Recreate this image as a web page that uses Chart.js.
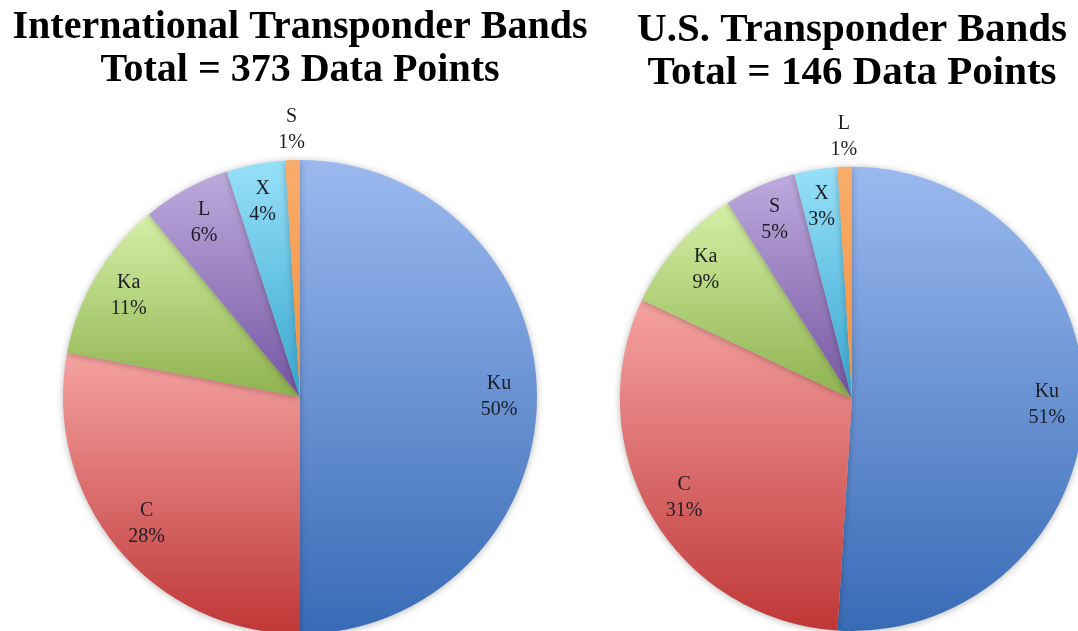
<!DOCTYPE html>
<html>
<head>
<meta charset="utf-8">
<script src="https://cdn.jsdelivr.net/npm/chart.js@4.4.1/dist/chart.umd.min.js"></script>
<style>
  html, body { margin: 0; padding: 0; background: #fff; overflow: hidden; width: 1078px; height: 631px; }
  .box { position: absolute; top: 0; width: 600px; height: 700px; }
  #leftBox { left: 0; }
  #rightBox { left: 552px; }
</style>
</head>
<body>
<div class="box" id="leftBox"><canvas id="intlChart" width="600" height="700"></canvas></div>
<div class="box" id="rightBox"><canvas id="usChart" width="600" height="700"></canvas></div>
<script>
// data (percent of data points)
const intlBands = ["Ku", "C", "Ka", "L", "X", "S"];
const intlShare = [50, 28, 11, 6, 4, 1];
const intlTitle = ["International Transponder Bands", "Total = 373 Data Points"];

const usBands = ["Ku", "C", "Ka", "S", "X", "L"];
const usShare = [51, 31, 9, 5, 3, 1];
const usTitle = ["U.S. Transponder Bands", "Total = 146 Data Points"];

// band -> [top colour, bottom colour] (office style gradient)
const bandColors = {
  Ku: ["#9bb9ef", "#386bb6"],
  C:  ["#f5a3a1", "#bf3737"],
  Ka: ["#d4f0a6", "#8fb24e"],
  L:  ["#bdaadd", "#7656a3"],
  S:  ["#bdaadd", "#7656a3"],
  X:  ["#98e0f8", "#36a7cf"],
};
const usColors = Object.assign({}, bandColors, { L: ["#f9ad6c", "#f0903f"] });
const intlColors = Object.assign({}, bandColors, { S: ["#f9ad6c", "#f0903f"] });

// gradient per slice, over the slice's own vertical extent
function sliceGradient(ctx, colors) {
  const chart = ctx.chart;
  const area = chart.chartArea;
  const labels = chart.data.labels;
  const c = colors[labels[ctx.dataIndex]];
  if (!area) return c[0];
  const data = ctx.dataset.data;
  const total = data.reduce((a, b) => a + b, 0);
  let before = 0;
  for (let i = 0; i < ctx.dataIndex; i++) before += data[i];
  const a0 = -Math.PI / 2 + before / total * 2 * Math.PI;
  const a1 = a0 + data[ctx.dataIndex] / total * 2 * Math.PI;
  const cy = (area.top + area.bottom) / 2;
  const r = Math.min(area.right - area.left, area.bottom - area.top) / 2;
  let ys = [cy, cy + r * Math.sin(a0), cy + r * Math.sin(a1)];
  [-Math.PI / 2, Math.PI / 2, 1.5 * Math.PI].forEach(t => {
    if (t >= a0 && t <= a1) ys.push(cy + r * Math.sin(t));
  });
  const y0 = Math.min(...ys), y1 = Math.max(...ys);
  const g = chart.ctx.createLinearGradient(0, y0, 0, y1 + 0.01);
  g.addColorStop(0, c[0]);
  g.addColorStop(1, c[1]);
  return g;
}

const pieShadow = {
  id: "pieShadow",
  beforeDatasetsDraw(chart) {
    const ctx = chart.ctx;
    ctx.save();
    ctx.shadowColor = "rgba(0,0,0,0.28)";
    ctx.shadowBlur = 7;
    ctx.shadowOffsetY = 1;
  },
  afterDatasetsDraw(chart) {
    chart.ctx.restore();
  }
};

const sliceLabels = {
  id: "sliceLabels",
  afterDraw(chart) {
    const ctx = chart.ctx;
    const meta = chart.getDatasetMeta(0);
    const data = chart.data.datasets[0].data;
    const total = data.reduce((a, b) => a + b, 0);
    ctx.save();
    ctx.font = "20px 'Liberation Serif', serif";
    ctx.fillStyle = "#1c1c24";
    ctx.textAlign = "center";
    ctx.textBaseline = "middle";
    meta.data.forEach((el, i) => {
      const p = el.getProps(["x", "y", "startAngle", "endAngle", "outerRadius"], true);
      const mid = (p.startAngle + p.endAngle) / 2;
      const pct = Math.round(data[i] / total * 100);
      const k = pct < 2 ? 1.13 : 0.84;
      const x = p.x + Math.cos(mid) * p.outerRadius * k;
      const y = p.y + Math.sin(mid) * p.outerRadius * k;
      ctx.fillText(chart.data.labels[i], x, y - 13);
      ctx.fillText(pct + "%", x, y + 13);
    });
    ctx.restore();
  }
};

function makePie(id, labels, values, title, colors, opts) {
  return new Chart(document.getElementById(id), {
    type: "pie",
    data: {
      labels: labels,
      datasets: [{
        data: values,
        backgroundColor: ctx => sliceGradient(ctx, colors),
        borderWidth: 0
      }]
    },
    options: {
      responsive: false,
      animation: false,
      layout: { padding: { top: opts.top, left: 0, right: 0, bottom: opts.bottom } },
      plugins: {
        legend: { display: false },
        tooltip: { enabled: false },
        title: {
          display: true,
          text: title,
          color: "#000",
          font: { family: "'Liberation Serif', serif", size: opts.titleSize, weight: "bold", lineHeight: opts.lineHeight },
          padding: { top: 0, bottom: opts.titleGap }
        }
      }
    },
    plugins: [pieShadow, sliceLabels]
  });
}

// left: centre (300, 397), r 237 ; right: centre (852, 399), r 232
makePie("intlChart", intlBands, intlShare, intlTitle, intlColors,
  { top: 6, bottom: 66, titleSize: 40, lineHeight: 1.075, titleGap: 68 });
makePie("usChart", usBands, usShare, usTitle, usColors,
  { top: 8, bottom: 69, titleSize: 41, lineHeight: 1.07, titleGap: 71 });
</script>
</body>
</html>
